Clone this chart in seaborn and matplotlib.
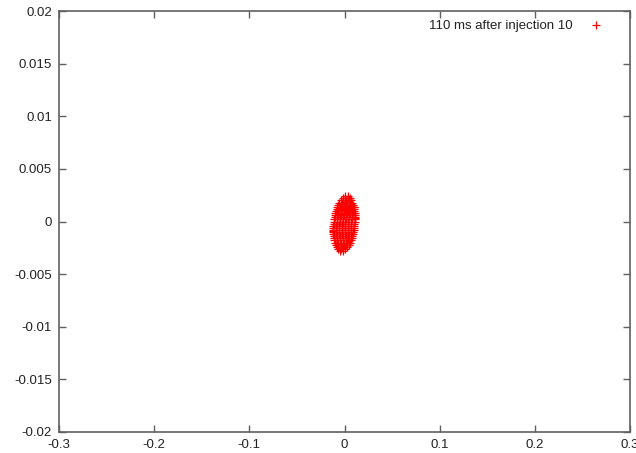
import matplotlib
matplotlib.use("Agg")
import matplotlib.pyplot as plt
import seaborn as sns
import pandas as pd

# ---- data (units of 1e-3) ----
series_label = "110 ms after injection 10"

# one entry per row of the point cloud: y value and the x values on that row
row_y = [2.2, 2.0, 1.8, 1.6, 1.4, 1.2, 1.0, 0.8, 0.6, 0.4, 0.2, 0.0, -0.2,
         -0.4, -0.6, -0.8, -1.0, -1.2, -1.4, -1.6, -1.8, -2.0, -2.2, -2.4, -2.6]
row_x = [
    [-1.9, 0.6, 3.2, 5.6],
    [-3.9, -1.1, 1.7, 4.4, 7.3],
    [-5.3, -2.6, 0.2, 2.9, 5.7, 8.3],
    [-6.5, -3.5, -0.4, 2.5, 5.8, 9.1],
    [-7.4, -4.5, -1.2, 1.9, 4.9, 7.6, 9.7],
    [-8.4, -5.4, -2.3, 0.6, 3.7, 6.7, 10.1],
    [-9.0, -5.8, -2.5, 0.8, 4.1, 7.4, 10.4],
    [-9.6, -6.5, -3.5, -0.4, 2.7, 5.8, 8.6, 10.6],
    [-10.1, -7.2, -4.1, -1.0, 2.1, 5.2, 8.2, 10.8],
    [-10.5, -7.6, -4.5, -1.4, 1.7, 4.8, 7.8, 10.8],
    [-11.0, -8.0, -4.9, -1.8, 1.3, 4.4, 7.4, 10.7],
    [-11.3, -8.2, -5.2, -2.1, 1.0, 4.1, 7.2, 10.7],
    [-11.5, -8.4, -5.3, -2.3, 0.8, 3.9, 7.0, 10.5],
    [-11.7, -8.6, -5.5, -2.4, 0.6, 3.7, 6.8, 10.3],
    [-11.7, -8.7, -5.6, -2.5, 0.6, 3.7, 6.7, 10.0],
    [-11.8, -8.7, -5.7, -2.6, 0.5, 3.6, 6.7, 9.5],
    [-11.8, -8.7, -5.6, -2.5, 0.5, 3.6, 6.7, 9.1],
    [-11.6, -8.5, -5.5, -2.4, 0.7, 3.8, 6.6, 8.6],
    [-11.4, -8.2, -5.0, -1.8, 1.4, 4.6, 8.0],
    [-11.1, -8.0, -4.9, -1.9, 1.2, 4.3, 7.4],
    [-10.7, -7.8, -4.8, -1.8, 1.3, 4.1, 6.4],
    [-10.1, -7.1, -4.0, -0.9, 2.2, 5.5],
    [-9.3, -6.5, -3.7, -1.0, 1.8, 4.3],
    [-8.3, -5.4, -2.7, 0.1, 2.9],
    [-6.6, -4.2, -1.6, 0.9],
]
# a few stray points around the edge of the cloud
stray_x = [0.5, 3.5, -4.5, -2.0, 11.5, -12.5, 10.5]
stray_y = [2.4, 2.45, -2.8, -2.85, 0.3, -0.9, 1.4]

x_ticks = [-0.3, -0.2, -0.1, 0.0, 0.1, 0.2, 0.3]
x_tick_labels = ["-0.3", "-0.2", "-0.1", "0", "0.1", "0.2", "0.3"]
y_ticks = [-0.02, -0.015, -0.01, -0.005, 0.0, 0.005, 0.01, 0.015, 0.02]
y_tick_labels = ["-0.02", "-0.015", "-0.01", "-0.005", "0", "0.005", "0.01", "0.015", "0.02"]

xs, ys = [], []
for yv, xrow in zip(row_y, row_x):
    for xv in xrow:
        xs.append(xv * 1e-3)
        ys.append(yv * 1e-3)
for xv, yv in zip(stray_x, stray_y):
    xs.append(xv * 1e-3)
    ys.append(yv * 1e-3)
df = pd.DataFrame({"x": xs, "y": ys})

sns.set_theme(style="white")
plt.rcParams["font.family"] = ["Liberation Sans", "DejaVu Sans"]

fig = plt.figure(figsize=(6.36, 4.53), dpi=100)
L, R, T, B = 59, 630, 11, 432
ax = fig.add_axes([L / 636, 1 - B / 453, (R - L) / 636, (B - T) / 453])

sns.scatterplot(data=df, x="x", y="y", marker="+", color="#ff0000",
                edgecolor="#ff0000", s=36, linewidth=0.9,
                label=series_label, ax=ax)

ax.set_xlim(-0.3, 0.3)
ax.set_ylim(-0.02, 0.02)
ax.set_xticks(x_ticks)
ax.set_xticklabels(x_tick_labels)
ax.set_yticks(y_ticks)
ax.set_yticklabels(y_tick_labels)
ax.set_xlabel("")
ax.set_ylabel("")

for sp in ax.spines.values():
    sp.set_visible(True)
    sp.set_color("#606060")
    sp.set_linewidth(1.2)
ax.tick_params(direction="in", length=5, width=1.0, color="#606060",
               top=True, right=True, bottom=True, left=True,
               labelsize=9.5, labelcolor="#222222", pad=5)

ax.legend(loc="upper right", bbox_to_anchor=(0.9729, 0.9924),
          frameon=False, markerfirst=False, handlelength=2.0,
          handletextpad=0.8, borderaxespad=0.0, fontsize=9.5,
          labelcolor="#222222")

fig.savefig("out.png", dpi=100)
